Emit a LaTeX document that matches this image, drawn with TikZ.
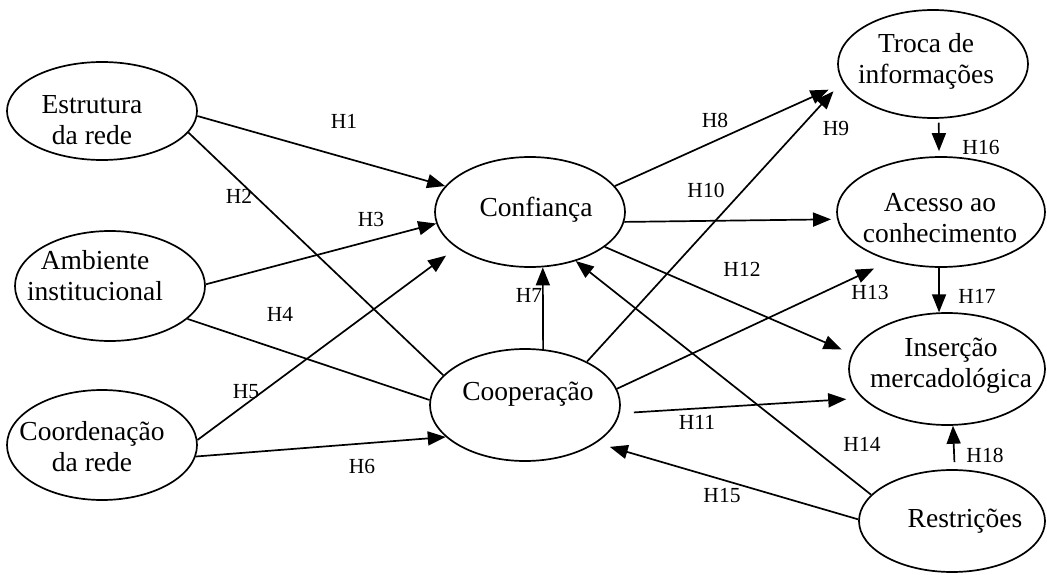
\documentclass[tikz,border=0pt]{standalone}
\usepackage{fontspec}
\setmainfont{Liberation Serif}
\usetikzlibrary{arrows.meta,shapes.geometric}
\begin{document}
\begin{tikzpicture}[x=1pt,y=-1pt,
  ell/.style={draw, ellipse, line width=1.7pt, inner sep=0pt},
  etxt/.style={font=\fontsize{27.5}{31}\selectfont, align=center, inner sep=0pt},
  hl/.style={font=\fontsize{21.5}{24}\selectfont, inner sep=0pt},
  arr/.style={line width=1.7pt, -{Triangle[length=18pt,width=14pt]}},
  ln/.style={line width=1.7pt}]
\useasboundingbox (0,0) rectangle (1047,575);
\fill[white] (0,0) rectangle (1047,575);

% ellipses
\node[ell, minimum width=190pt, minimum height=98pt,
  label={[etxt, xshift=-10pt, yshift=-9pt]center:Estrutura\\da rede}] (est) at (102,111) {};
\node[ell, minimum width=190pt, minimum height=110pt,
  label={[etxt, xshift=-15pt, yshift=10pt]center:Ambiente\\institucional}] (amb) at (110,286) {};
\node[ell, minimum width=190pt, minimum height=110pt,
  label={[etxt, xshift=-10pt, yshift=-2pt]center:Coordenação\\da rede}] (coord) at (102,445) {};
\node[ell, minimum width=190pt, minimum height=110pt,
  label={[etxt, xshift=6pt, yshift=2pt]center:Confiança}] (conf) at (530,212) {};
\node[ell, minimum width=190pt, minimum height=112pt,
  label={[etxt, xshift=3pt, yshift=11pt]center:Cooperação}] (coop) at (525,405) {};
\node[ell, minimum width=190pt, minimum height=108pt,
  label={[etxt, xshift=-7pt, yshift=3pt]center:Troca de\\informações}] (troca) at (933,64) {};
\node[ell, minimum width=208pt, minimum height=110pt,
  label={[etxt, xshift=-1pt, yshift=-6pt]center:Acesso ao\\conhecimento}] (acesso) at (941,212) {};
\node[ell, minimum width=196pt, minimum height=112pt,
  label={[etxt, xshift=4pt, yshift=3pt]center:Inserção\\mercadológica}] (ins) at (947,369) {};
\node[ell, minimum width=186pt, minimum height=102pt,
  label={[etxt, xshift=13pt, yshift=0pt]center:Restrições}] (restr) at (952,521) {};

% connectors
\draw[arr] (est.-3) -- (conf.163.6);
\draw[ln] (est.-14.4) -- (coop.160.1);
\draw[arr] (amb.1.9) -- (conf.-173);
\draw[ln] (amb.-23.6) -- (coop.177);
\draw[arr, shorten >=13pt] (coord.3) -- (conf.206.4);
\draw[arr] (coord.-7) -- (coop.202.6);
\draw[arr] (coop.72) -- (conf.-77);
\draw[arr, shorten >=16pt] (conf.17.5) -- (troca.192.5);
\draw[arr, shorten >=13pt] (coop.35.9) -- (troca.191.8);
\draw[arr, shorten >=6pt] (conf.-6) -- (acesso.184.4);
\draw[arr, shorten <=14pt, shorten >=16pt] (coop.-5.5) -- (ins.199.2);
\draw[arr, shorten >=11pt] (conf.-25) -- (ins.171.3);
\draw[arr, shorten >=18pt] (coop.10.5) -- (acesso.224.4);
\draw[arr] (restr.162.2) -- (conf.-47.3);
\draw[arr, shorten >=14pt] (restr.179.4) -- (coop.-28.7);
\draw[arr, shorten <=4pt, shorten >=5pt] (troca.-84) -- (acesso.92);
\draw[arr] (acesso.-92) -- (ins.98);
\draw[arr, shorten <=7pt] (restr.87) -- (ins.-84);

% labels
\node[hl] (h1) at (344,121) {H1};
\node[hl] (h2) at (239,196) {H2};
\node[hl] (h3) at (371,219) {H3};
\node[hl] (h4) at (280,314) {H4};
\node[hl] (h5) at (246,392) {H5};
\node[hl] (h6) at (362,466) {H6};
\node[hl] (h7) at (529,295) {H7};
\node[hl] (h8) at (715,120) {H8};
\node[hl] (h9) at (836,128) {H9};
\node[hl] (h10) at (706,190) {H10};
\node[hl] (h11) at (697,422) {H11};
\node[hl] (h12) at (742,269) {H12};
\node[hl] (h13) at (870,292) {H13};
\node[hl] (h14) at (862,444) {H14};
\node[hl] (h15) at (722,496) {H15};
\node[hl] (h16) at (981,147) {H16};
\node[hl] (h17) at (977,296) {H17};
\node[hl] (h18) at (985,455) {H18};
\end{tikzpicture}
\end{document}
